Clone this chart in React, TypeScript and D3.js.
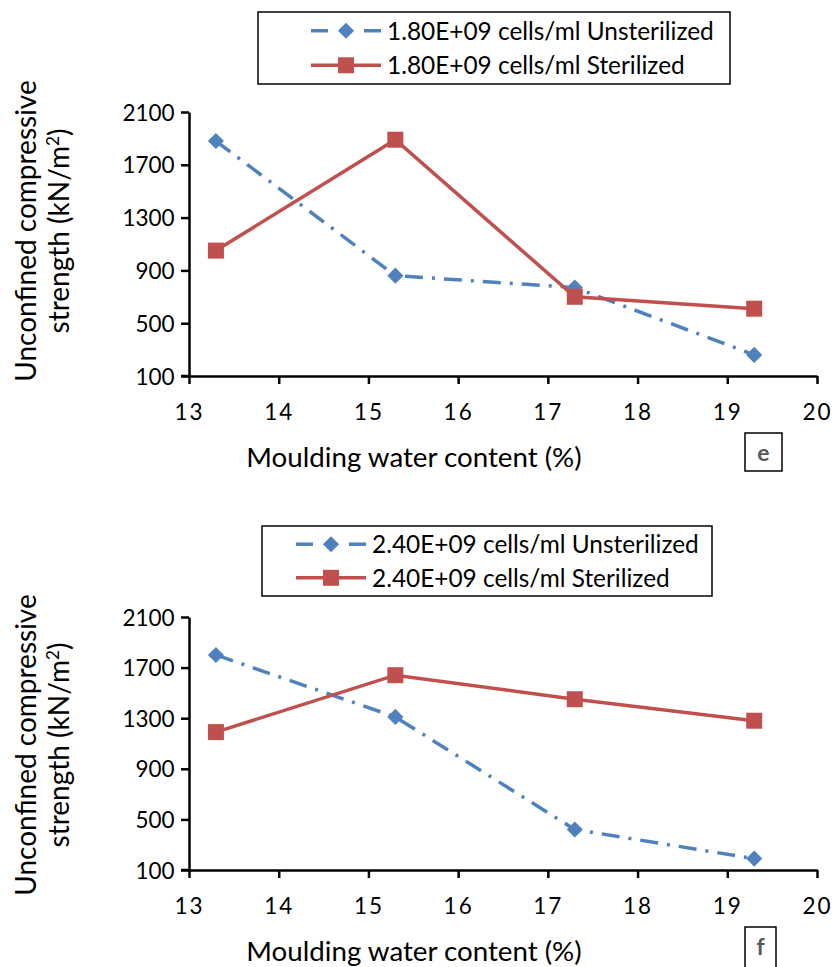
import React, { useRef, useEffect } from "react";
import * as d3 from "d3";

const moisture = [13.3, 15.3, 17.3, 19.3];
const unsterE = [1880, 860, 770, 260];
const sterE = [1050, 1890, 700, 610];
const unsterF = [1800, 1310, 420, 190];
const sterF = [1190, 1640, 1450, 1280];
const xTicks = [13, 14, 15, 16, 17, 18, 19, 20];
const yTicks = [100, 500, 900, 1300, 1700, 2100];
const legendE = ["1.80E+09 cells/ml Unsterilized", "1.80E+09 cells/ml Sterilized"];
const legendF = ["2.40E+09 cells/ml Unsterilized", "2.40E+09 cells/ml Sterilized"];

const BLUE = "#4F81BD";
const RED = "#C0504D";
const FONT = "Lato, 'Open Sans', sans-serif";

type Panel = {
  top: number;
  bottom: number;
  titleMid: number;
  unster: number[];
  ster: number[];
  legend: string[];
  legendBox: [number, number, number, number];
  sampleX: number;
  tag: string;
  tagBox: [number, number, number, number];
};

const panels: Panel[] = [
  {
    top: 112, bottom: 376, titleMid: 231, unster: unsterE, ster: sterE, legend: legendE,
    legendBox: [258, 12, 472, 72], sampleX: 311, tag: "e", tagBox: [745, 433, 37, 38],
  },
  {
    top: 617, bottom: 870, titleMid: 745, unster: unsterF, ster: sterF, legend: legendF,
    legendBox: [262, 526, 450, 70], sampleX: 296, tag: "f", tagBox: [745, 927, 31, 42],
  },
];

export default function App() {
  const svgRef = useRef<SVGSVGElement>(null);

  useEffect(() => {
    document.body.style.margin = "0";
    const svg = d3.select(svgRef.current);
    svg.selectAll("*").remove();

    const left = 189;
    const right = 817;
    const x = d3.scaleLinear().domain([13, 20]).range([left, right]);

    panels.forEach((p) => {
      const y = d3.scaleLinear().domain([100, 2100]).range([p.bottom, p.top]);
      const g = svg.append("g");

      // axes
      const xAxis = d3.axisBottom(x).tickValues(xTicks).tickSize(8).tickSizeOuter(0).tickFormat(d3.format("d"));
      const yAxis = d3.axisLeft(y).tickValues(yTicks).tickSize(8).tickSizeOuter(0).tickFormat(d3.format("d"));

      const gx = g.append("g").attr("transform", `translate(0,${p.bottom})`).call(xAxis);
      const gy = g.append("g").attr("transform", `translate(${left},0)`).call(yAxis);
      [gx, gy].forEach((a) => {
        a.select(".domain").attr("stroke", "#000").attr("stroke-width", 2.5);
        a.selectAll(".tick line").attr("stroke", "#000").attr("stroke-width", 2.5);
        a.selectAll(".tick text").attr("font-family", FONT).attr("font-size", 22.5).attr("fill", "#000");
      });
      gx.selectAll(".tick text").attr("y", 44).attr("dy", 0).style("letter-spacing", "2px");
      gy.selectAll(".tick text").attr("dx", "-0.15em").attr("dy", "0.36em");
      // little stub where the axes cross
      g.append("line").attr("x1", left - 8).attr("x2", left).attr("y1", p.bottom).attr("y2", p.bottom)
        .attr("stroke", "#000").attr("stroke-width", 2.5);

      // titles
      const yt = g.append("text")
        .attr("transform", `translate(44,${p.titleMid}) rotate(-90)`)
        .attr("text-anchor", "middle").attr("font-family", FONT).attr("font-size", 28).attr("fill", "#000");
      yt.append("tspan").attr("x", 0).attr("dy", "-0.3em").text("Unconfined compressive");
      const t2 = yt.append("tspan").attr("x", 0).attr("dy", "1.2em").text("strength (kN/m");
      t2.append("tspan").attr("font-size", 17).attr("dy", "-0.6em").text("2");
      t2.append("tspan").attr("dy", "0.36em").text(")");

      g.append("text").attr("x", 414).attr("y", p.bottom + 91).attr("text-anchor", "middle")
        .attr("font-family", FONT).attr("font-size", 27.7).attr("fill", "#000")
        .text("Moulding water content (%)");

      // lines
      const line = d3.line<number>().x((_, i) => x(moisture[i])).y((d) => y(d));
      g.append("path").datum(p.unster).attr("d", line).attr("fill", "none")
        .attr("stroke", BLUE).attr("stroke-width", 3.5).attr("stroke-dasharray", "18 9 3 9")
        .attr("stroke-linecap", "butt");
      g.append("path").datum(p.ster).attr("d", line).attr("fill", "none")
        .attr("stroke", RED).attr("stroke-width", 3.5);

      g.selectAll(".dia").data(p.unster).join("path")
        .attr("transform", (d, i) => `translate(${x(moisture[i])},${y(d)}) rotate(45)`)
        .attr("d", d3.symbol().type(d3.symbolSquare).size(130)).attr("fill", BLUE);
      g.selectAll(".sq").data(p.ster).join("rect")
        .attr("x", (_, i) => x(moisture[i]) - 8).attr("y", (d) => y(d) - 8)
        .attr("width", 16).attr("height", 16).attr("fill", RED);

      // legend
      const [lx, ly, lw, lh] = p.legendBox;
      const lg = g.append("g");
      lg.append("rect").attr("x", lx).attr("y", ly).attr("width", lw).attr("height", lh)
        .attr("fill", "#fff").attr("stroke", "#000").attr("stroke-width", 1.5);
      const sx0 = p.sampleX, sx1 = p.sampleX + 70, tx = p.sampleX + 76;
      const r1 = ly + lh * 0.26, r2 = ly + lh * 0.74;
      lg.append("line").attr("x1", sx0).attr("x2", sx0 + 17).attr("y1", r1).attr("y2", r1)
        .attr("stroke", BLUE).attr("stroke-width", 3.5);
      lg.append("line").attr("x1", sx1 - 17).attr("x2", sx1).attr("y1", r1).attr("y2", r1)
        .attr("stroke", BLUE).attr("stroke-width", 3.5);
      lg.append("path").attr("transform", `translate(${(sx0 + sx1) / 2},${r1}) rotate(45)`)
        .attr("d", d3.symbol().type(d3.symbolSquare).size(130)).attr("fill", BLUE);
      lg.append("line").attr("x1", sx0).attr("x2", sx1).attr("y1", r2).attr("y2", r2)
        .attr("stroke", RED).attr("stroke-width", 3.5);
      lg.append("rect").attr("x", (sx0 + sx1) / 2 - 8).attr("y", r2 - 8).attr("width", 16).attr("height", 16)
        .attr("fill", RED);
      [r1, r2].forEach((ry, i) => {
        lg.append("text").attr("x", tx).attr("y", ry).attr("dy", "0.36em")
          .attr("font-family", FONT).attr("font-size", 24.4).attr("fill", "#000").text(p.legend[i]);
      });

      // panel tag
      const [bx, by, bw, bh] = p.tagBox;
      g.append("rect").attr("x", bx).attr("y", by).attr("width", bw).attr("height", bh)
        .attr("fill", "#fff").attr("stroke", "#000").attr("stroke-width", 1.5);
      g.append("text").attr("x", bx + bw / 2).attr("y", by + 28).attr("text-anchor", "middle")
        .attr("font-family", FONT).attr("font-weight", "bold").attr("font-size", 23).attr("fill", "#595959")
        .text(p.tag);
    });
  }, []);

  return <svg ref={svgRef} width={832} height={967} style={{ display: "block", background: "#fff" }} />;
}
